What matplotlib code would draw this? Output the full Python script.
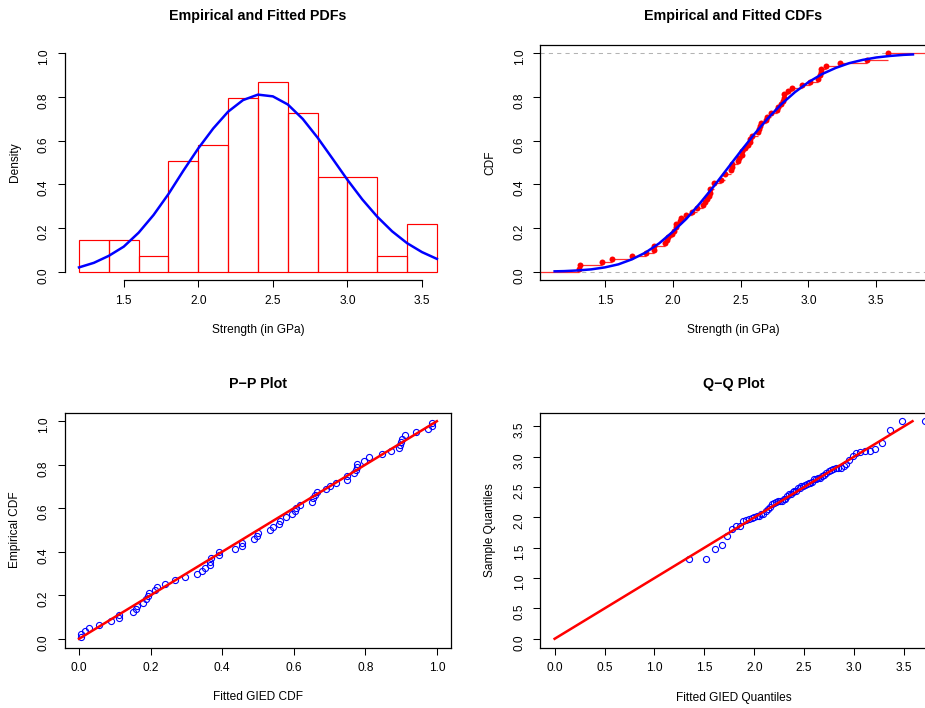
import numpy as np
import pandas as pd
import matplotlib
matplotlib.use("Agg")
import matplotlib.pyplot as plt

plt.rcParams["font.family"] = ["Liberation Sans", "DejaVu Sans"]
plt.rcParams["font.size"] = 8.6

# Festigkeit der Fasern in GPa (n = 69)
strength = [1.312, 1.314, 1.479, 1.552, 1.700, 1.803, 1.861, 1.865, 1.944, 1.958,
            1.966, 1.997, 2.006, 2.021, 2.027, 2.055, 2.063, 2.098, 2.140, 2.179,
            2.224, 2.240, 2.253, 2.270, 2.272, 2.274, 2.301, 2.301, 2.359, 2.382,
            2.382, 2.426, 2.434, 2.435, 2.478, 2.490, 2.511, 2.514, 2.535, 2.554,
            2.566, 2.570, 2.586, 2.629, 2.633, 2.642, 2.648, 2.684, 2.697, 2.726,
            2.770, 2.773, 2.800, 2.809, 2.818, 2.821, 2.848, 2.880, 2.954, 3.012,
            3.067, 3.084, 3.090, 3.096, 3.128, 3.233, 3.433, 3.585, 3.585]

hist_edges = [1.2, 1.4, 1.6, 1.8, 2.0, 2.2, 2.4, 2.6, 2.8, 3.0, 3.2, 3.4, 3.6]

# angepasste Dichte
pdf_x = [1.2, 1.3, 1.4, 1.5, 1.6, 1.7, 1.8, 1.9, 2.0, 2.1, 2.2, 2.3, 2.4,
         2.5, 2.6, 2.7, 2.8, 2.9, 3.0, 3.1, 3.2, 3.3, 3.4, 3.5, 3.6]
pdf_fit = [0.020, 0.041, 0.073, 0.115, 0.179, 0.260, 0.356, 0.463, 0.565, 0.656, 0.733, 0.786, 0.811,
           0.803, 0.766, 0.700, 0.614, 0.518, 0.421, 0.331, 0.252, 0.185, 0.131, 0.090, 0.059]

# angepasste Verteilungsfunktion
cdf_x = [1.13, 1.2, 1.3, 1.4, 1.5, 1.6, 1.7, 1.8, 1.9, 2.0, 2.1, 2.2, 2.3, 2.4,
         2.5, 2.6, 2.7, 2.8, 2.9, 3.0, 3.1, 3.2, 3.3, 3.4, 3.5, 3.6, 3.7, 3.77]
cdf_fit = [0.002, 0.003, 0.006, 0.011, 0.020, 0.034, 0.057, 0.088, 0.130, 0.183, 0.242, 0.313, 0.389, 0.470,
           0.551, 0.629, 0.702, 0.767, 0.822, 0.868, 0.905, 0.933, 0.955, 0.970, 0.981, 0.988, 0.993, 0.995]

# P-P: angepasste CDF an den Datenpunkten
pp_fitted = [0.006, 0.006, 0.017, 0.027, 0.057, 0.089, 0.113, 0.113, 0.151, 0.158,
             0.162, 0.180, 0.186, 0.192, 0.196, 0.212, 0.217, 0.241, 0.269, 0.297,
             0.331, 0.343, 0.352, 0.365, 0.366, 0.368, 0.390, 0.390, 0.436, 0.456,
             0.456, 0.490, 0.497, 0.499, 0.533, 0.543, 0.560, 0.562, 0.579, 0.595,
             0.604, 0.607, 0.618, 0.651, 0.653, 0.660, 0.664, 0.691, 0.700, 0.719,
             0.748, 0.750, 0.767, 0.773, 0.776, 0.778, 0.795, 0.811, 0.848, 0.873,
             0.894, 0.898, 0.901, 0.903, 0.912, 0.941, 0.975, 0.987, 0.987]

# Q-Q: angepasste Quantile
qq_fitted = [1.350, 1.515, 1.610, 1.675, 1.730, 1.775, 1.820, 1.855, 1.890, 1.918,
             1.946, 1.974, 1.999, 2.024, 2.047, 2.071, 2.092, 2.114, 2.135, 2.155,
             2.177, 2.197, 2.216, 2.236, 2.255, 2.274, 2.293, 2.311, 2.330, 2.348,
             2.367, 2.385, 2.403, 2.421, 2.438, 2.455, 2.473, 2.490, 2.508, 2.526,
             2.544, 2.562, 2.581, 2.600, 2.619, 2.639, 2.659, 2.680, 2.701, 2.722,
             2.744, 2.767, 2.790, 2.815, 2.840, 2.866, 2.894, 2.923, 2.953, 2.986,
             3.021, 3.060, 3.105, 3.156, 3.212, 3.280, 3.362, 3.482, 3.707]

data = np.sort(np.array(strength))
n = len(data)

W, H = 925, 708
fig = plt.figure(figsize=(W / 100, H / 100), dpi=100)


def rect(left, top, w, h):
    return [left / W, 1 - (top + h) / H, w / W, h / H]


ax1 = fig.add_axes(rect(64.7, 44.6, 386.5, 235.9))
ax2 = fig.add_axes(rect(540.3, 44.6, 386.5, 235.9))
ax3 = fig.add_axes(rect(64.7, 412.5, 386.5, 235.0))
ax4 = fig.add_axes(rect(540.3, 412.5, 386.5, 235.0))


def style(ax, title, xlabel, ylabel):
    ax.tick_params(direction="out", length=5, width=0.75, labelsize=8.6)
    ax.tick_params(axis="x", pad=5.4)
    ax.tick_params(axis="y", pad=5.6, labelrotation=90)
    for s in ax.spines.values():
        s.set_linewidth(0.9)
    h = ax.get_position().height * H
    ax.set_xlabel(xlabel, fontsize=8.6)
    ax.xaxis.set_label_coords(0.5, -50 / h)
    ax.xaxis.label.set_va("center")
    ax.set_ylabel(ylabel, fontsize=8.6)
    ax.yaxis.set_label_coords(-50 / 386.5, 0.5)
    ax.yaxis.label.set_va("center")
    ax.text(0.5, 1 + 28.8 / h, title, transform=ax.transAxes, ha="center", va="center",
            fontsize=10.3, fontweight="bold")


#------------------------------------------------------------------------------------------------------------#
# Histogramm + angepasste Dichte (Intervalle rechts geschlossen wie in R)
counts = pd.Series(pd.cut(data, bins=hist_edges, right=True, include_lowest=True)).value_counts(sort=False).values
widths = np.diff(hist_edges)
dens = counts / (n * widths)
ax1.bar(hist_edges[:-1], dens, width=widths, align="edge", fill=False, edgecolor="red", linewidth=0.85)
ax1.plot(pdf_x, pdf_fit, color="blue", linewidth=1.8)
ax1.set_xlim(1.104, 3.696)
ax1.set_ylim(-0.04, 1.04)
ax1.set_xticks(np.arange(1.5, 3.51, 0.5))
ax1.set_yticks(np.arange(0, 1.01, 0.2))
ax1.spines["top"].set_visible(False)
ax1.spines["right"].set_visible(False)
ax1.spines["left"].set_bounds(0, 1)
ax1.spines["bottom"].set_bounds(1.5, 3.5)
style(ax1, "Empirical and Fitted PDFs", "Strength (in GPa)", "Density")

#------------------------------------------------------------------------------------------------------------#
# empirische + angepasste CDF
xlo, xhi = 1.0245, 3.872
knots = np.unique(data)
Fn = np.searchsorted(data, knots, side="right") / n
ax2.axhline(0, color="#b3b3b3", linestyle=(0, (4, 4)), linewidth=0.75)
ax2.axhline(1, color="#b3b3b3", linestyle=(0, (4, 4)), linewidth=0.75)
starts = np.concatenate(([xlo - 1], knots))
ends = np.concatenate((knots, [xhi + 1]))
levels = np.concatenate(([0], Fn))
ax2.hlines(levels, starts, ends, colors="#ff3030", linewidth=0.9)
ax2.plot(knots, Fn, "o", color="red", markersize=4.3, markeredgewidth=0)
ax2.plot(cdf_x, cdf_fit, color="blue", linewidth=1.8)
ax2.set_xlim(xlo, xhi)
ax2.set_ylim(-0.04, 1.04)
ax2.set_xticks(np.arange(1.5, 3.51, 0.5))
ax2.set_yticks(np.arange(0, 1.01, 0.2))
style(ax2, "Empirical and Fitted CDFs", "Strength (in GPa)", "CDF")

#------------------------------------------------------------------------------------------------------------#
# P-P Plot
emp = (np.arange(1, n + 1) - 0.5) / n
ax3.plot(pp_fitted, emp, "o", markerfacecolor="none", markeredgecolor="blue", markersize=4.4, markeredgewidth=0.8)
ax3.plot([0, 1], [0, 1], color="red", linewidth=1.8)
ax3.set_xlim(-0.04, 1.04)
ax3.set_ylim(-0.04, 1.04)
ax3.set_xticks(np.arange(0, 1.01, 0.2))
ax3.set_yticks(np.arange(0, 1.01, 0.2))
style(ax3, "P\u2212P Plot", "Fitted GIED CDF", "Empirical CDF")

#------------------------------------------------------------------------------------------------------------#
# Q-Q Plot
m = data.max()
ax4.plot(qq_fitted, data, "o", markerfacecolor="none", markeredgecolor="blue", markersize=4.4, markeredgewidth=0.8)
ax4.plot([0, m], [0, m], color="red", linewidth=1.8)
ax4.set_xlim(-0.04 * m, 1.04 * m)
ax4.set_ylim(-0.04 * m, 1.04 * m)
ax4.set_xticks(np.arange(0, 3.51, 0.5))
ax4.set_yticks(np.arange(0, 3.51, 0.5))
style(ax4, "Q\u2212Q Plot", "Fitted GIED Quantiles", "Sample Quantiles")

fig.savefig("out.png", dpi=100)
